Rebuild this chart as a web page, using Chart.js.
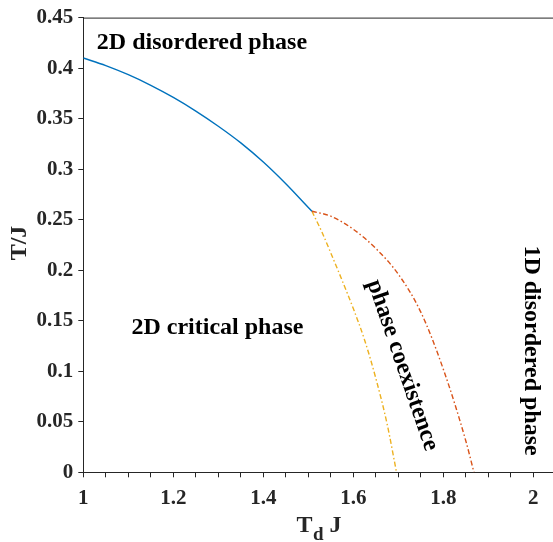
<!DOCTYPE html>
<html><head><meta charset="utf-8">
<script src="https://cdn.jsdelivr.net/npm/chart.js@4/dist/chart.umd.min.js"></script>
<style>html,body{margin:0;padding:0;background:#fff;overflow:hidden}canvas{display:block}</style>
</head><body>
<canvas id="c" width="553" height="542"></canvas>
<script>
// ---- data ----
const blueX   = [1.0, 1.05, 1.1, 1.15, 1.2, 1.25, 1.3, 1.35, 1.4, 1.45, 1.5, 1.508];
const blueT   = [0.410, 0.4025, 0.3935, 0.383, 0.371, 0.3575, 0.3425, 0.326, 0.307, 0.2855, 0.262, 0.2583];
const redX    = [1.508, 1.55, 1.6, 1.65, 1.7, 1.75, 1.8, 1.85, 1.868];
const redT    = [0.2583, 0.2535, 0.2405, 0.2215, 0.196, 0.1585, 0.102, 0.031, 0.0];
const yellowX = [1.508, 1.53, 1.55, 1.575, 1.6, 1.625, 1.65, 1.675, 1.696];
const yellowT = [0.2583, 0.238, 0.217, 0.190, 0.162, 0.131, 0.093, 0.048, 0.0];
const xTickLabels = ['1', '1.2', '1.4', '1.6', '1.8', '2'];
const yTickLabels = ['0', '0.05', '0.1', '0.15', '0.2', '0.25', '0.3', '0.35', '0.4', '0.45'];
const regionLabels = ['2D disordered phase', '2D critical phase', 'phase coexistence', '1D disordered phase'];

const FONT = "'Liberation Serif','Times New Roman',serif";
const AX = '#262626';
const pts = (xs, ys) => xs.map((x, i) => ({x: x, y: ys[i]}));
const findLabel = (arr, v) => { const s = arr.find(l => Math.abs(parseFloat(l) - v) < 1e-6); return s === undefined ? '' : s; };

const overlay = {
  id: 'overlay',
  afterDraw(chart) {
    const ctx = chart.ctx, a = chart.chartArea, xs = chart.scales.x, ys = chart.scales.y;
    ctx.save();
    // top box line
    ctx.strokeStyle = AX; ctx.lineWidth = 1;
    ctx.beginPath(); ctx.moveTo(a.left, a.top + 0.5); ctx.lineTo(a.right, a.top + 0.5); ctx.stroke();
    ctx.fillStyle = '#000';
    ctx.font = 'bold 24px ' + FONT;
    // region labels
    ctx.textAlign = 'left'; ctx.textBaseline = 'alphabetic';
    ctx.fillText(regionLabels[0], xs.getPixelForValue(1.030), ys.getPixelForValue(0.419));
    ctx.fillText(regionLabels[1], xs.getPixelForValue(1.107), ys.getPixelForValue(0.137));
    ctx.save();
    ctx.translate(xs.getPixelForValue(1.709), ys.getPixelForValue(0.106));
    ctx.rotate(71 * Math.PI / 180);
    ctx.textAlign = 'center'; ctx.textBaseline = 'middle';
    ctx.fillText(regionLabels[2], 0, 0);
    ctx.restore();
    ctx.save();
    ctx.translate(xs.getPixelForValue(1.996), ys.getPixelForValue(0.1205));
    ctx.rotate(Math.PI / 2);
    ctx.textAlign = 'center'; ctx.textBaseline = 'middle';
    ctx.fillText(regionLabels[3], 0, 0);
    ctx.restore();
    // axis titles
    ctx.fillStyle = AX;
    ctx.save();
    ctx.translate(25.5, 243);
    ctx.rotate(-Math.PI / 2);
    ctx.textAlign = 'center'; ctx.textBaseline = 'alphabetic';
    ctx.fillText('T/J', 0, 0);
    ctx.restore();
    ctx.textAlign = 'left'; ctx.textBaseline = 'alphabetic';
    let x0 = 296.5, base = 531.5;
    ctx.fillText('T', x0, base);
    x0 += ctx.measureText('T').width;
    ctx.font = 'bold 19px ' + FONT;
    ctx.fillText('d', x0 + 0.5, base + 8);
    x0 += ctx.measureText('d').width + 0.5;
    ctx.font = 'bold 24px ' + FONT;
    x0 += ctx.measureText(' ').width;
    ctx.fillText('J', x0, base);
    ctx.restore();
  }
};

const dashDot = [5, 2.5, 1.5, 2.5];
const lineStyle = {showLine: true, pointRadius: 0, borderWidth: 1.4, cubicInterpolationMode: 'monotone'};
new Chart(document.getElementById('c'), {
  type: 'scatter',
  data: {
    datasets: [
      Object.assign({data: pts(blueX, blueT), borderColor: '#0072BD'}, lineStyle),
      Object.assign({data: pts(redX, redT), borderColor: '#D95319', borderDash: dashDot}, lineStyle),
      Object.assign({data: pts(yellowX, yellowT), borderColor: '#EDB120', borderDash: dashDot}, lineStyle)
    ]
  },
  options: {
    responsive: false, animation: false, devicePixelRatio: 1,
    layout: {padding: {top: 15.5, right: 0, left: 0, bottom: 0}},
    plugins: {legend: {display: false}, tooltip: {enabled: false}},
    scales: {
      x: {
        type: 'linear', min: 1, max: 2.0437,
        border: {display: true, color: AX, width: 1},
        grid: {drawOnChartArea: false, drawTicks: true, tickLength: 5, tickColor: AX},
        ticks: {stepSize: 0.05, includeBounds: false, autoSkip: false, maxRotation: 0, padding: 9, color: AX,
          font: {family: FONT, size: 21, weight: 'bold'},
          callback: v => findLabel(xTickLabels, v)},
        afterFit: s => { s.height = 69.7; }
      },
      y: {
        type: 'linear', min: 0, max: 0.45,
        border: {display: true, color: AX, width: 1},
        grid: {drawOnChartArea: false, drawTicks: true, tickLength: 5, tickColor: AX},
        ticks: {stepSize: 0.05, autoSkip: false, padding: 5, color: AX,
          font: {family: FONT, size: 21, weight: 'bold'},
          callback: v => findLabel(yTickLabels, v)},
        afterFit: s => { s.width = 83.3; }
      }
    }
  },
  plugins: [overlay]
});
</script>
</body></html>
